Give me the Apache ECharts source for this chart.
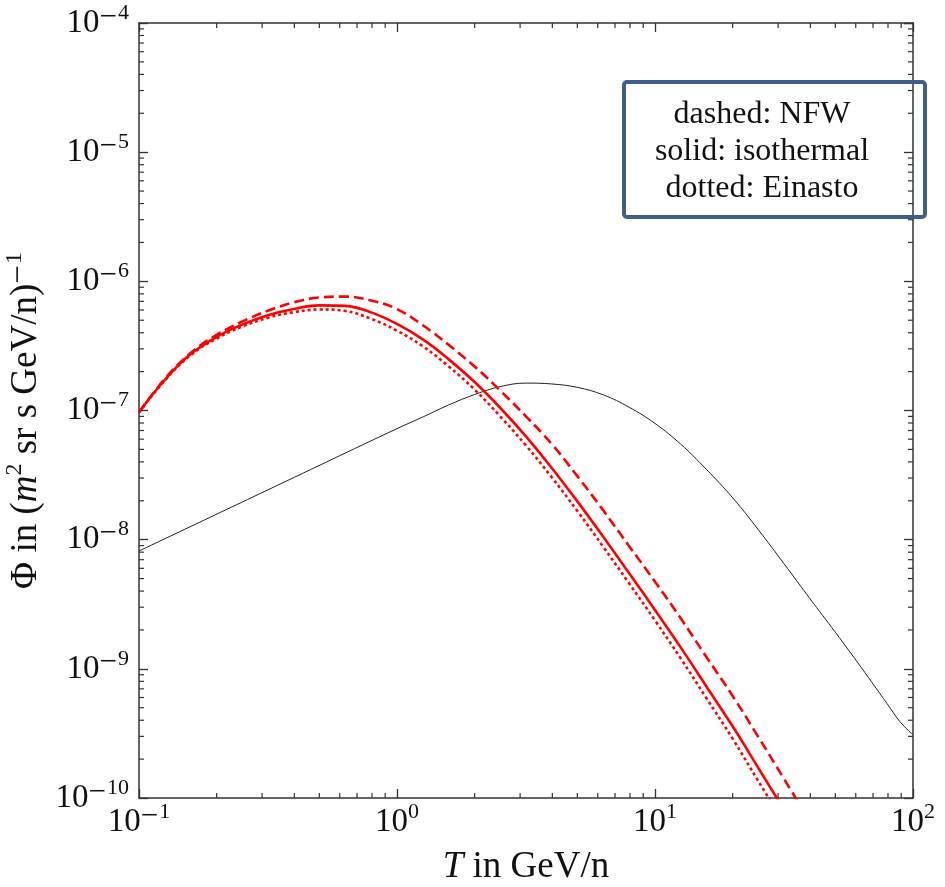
<!DOCTYPE html>
<html><head><meta charset="utf-8">
<script src="https://cdn.jsdelivr.net/npm/echarts@6/dist/echarts.min.js"></script>
<style>html,body{margin:0;padding:0;background:#fff;}#c{width:945px;height:887px;}</style>
</head><body><div id="c"></div>
<script>
// ---- data ----
// kinetic energy grid for the three red (signal) curves, GeV/n
const T_sig   = [0.1, 0.126, 0.158, 0.2, 0.251, 0.316, 0.398, 0.501, 0.631, 0.794, 1, 1.26, 1.58, 2.0, 2.51, 3.16, 3.98, 5.01, 6.31, 7.94, 10, 12.6, 15.8, 20, 25.1, 31.6, 39.8];
// dashed: NFW
const PHI_nfw = [9.70e-8, 1.76e-7, 2.77e-7, 3.85e-7, 4.88e-7, 5.92e-7, 6.87e-7, 7.50e-7, 7.62e-7, 7.11e-7, 6.10e-7, 4.57e-7, 3.24e-7, 2.19e-7, 1.43e-7, 9.02e-8, 5.50e-8, 3.09e-8, 1.68e-8, 8.91e-9, 4.73e-9, 2.45e-9, 1.24e-9, 6.17e-10, 2.99e-10, 1.41e-10, 6.61e-11];
// solid: isothermal
const PHI_iso = [9.70e-8, 1.73e-7, 2.72e-7, 3.72e-7, 4.62e-7, 5.47e-7, 6.11e-7, 6.52e-7, 6.46e-7, 5.75e-7, 4.68e-7, 3.55e-7, 2.51e-7, 1.66e-7, 1.05e-7, 6.31e-8, 3.59e-8, 1.97e-8, 1.05e-8, 5.50e-9, 2.85e-9, 1.46e-9, 7.33e-10, 3.59e-10, 1.72e-10, 8.13e-11];
// dotted: Einasto
const PHI_ein = [9.70e-8, 1.71e-7, 2.67e-7, 3.61e-7, 4.46e-7, 5.22e-7, 5.77e-7, 6.05e-7, 5.89e-7, 5.13e-7, 4.15e-7, 3.14e-7, 2.21e-7, 1.45e-7, 9.02e-8, 5.37e-8, 3.04e-8, 1.66e-8, 8.77e-9, 4.59e-9, 2.37e-9, 1.20e-9, 5.96e-10, 2.88e-10, 1.36e-10, 6.46e-11];
// thin black curve (background)
const T_bkg   = [0.1, 0.316, 1, 1.26, 1.58, 2.0, 2.51, 3.16, 3.98, 5.01, 6.31, 7.94, 10, 12.6, 15.8, 20, 25.1, 31.6, 39.8, 50.1, 63.1, 79.4, 89.1, 100];
const PHI_bkg = [8.17e-9, 2.43e-8, 7.24e-8, 8.91e-8, 1.10e-7, 1.33e-7, 1.53e-7, 1.63e-7, 1.605e-7, 1.51e-7, 1.32e-7, 1.06e-7, 7.94e-8, 5.47e-8, 3.51e-8, 2.11e-8, 1.20e-8, 6.53e-9, 3.51e-9, 1.91e-9, 1.02e-9, 5.37e-10, 3.89e-10, 3.09e-10];

const X_MIN = 0.1, X_MAX = 100;
const Y_MIN = 1e-10, Y_MAX = 1e-4;
const xDecades = [0.1, 1, 10];
const yDecades = [1e-10, 1e-9, 1e-8, 1e-7, 1e-6, 1e-5];
const legendLines = ['dashed: NFW', 'solid: isothermal', 'dotted: Einasto'];
const xTitle = ['T', ' in GeV/n'];

// ---- helpers ----
const FONT = '"Liberation Serif","Times New Roman",Times,serif';
const zip = (a, b) => b.map((v, i) => [a[i], v]);
function minorList(decades) {
  const out = [];
  decades.forEach(d => { for (let k = 2; k <= 9; k++) out.push(+(d * k).toPrecision(6)); });
  return out;
}
const minorX = minorList(xDecades);
const minorY = minorList(yDecades);

function expLabel(v) {
  const e = Math.round(Math.log10(v));
  return '{b|10}' + (e < 0 ? '{m|\u2212}' : '') + '{s|' + Math.abs(e) + '}';
}
const TXT = '#111';
const tickRich = {
  b: { fontFamily: FONT, fontSize: 33, lineHeight: 42, color: TXT },
  m: { fontFamily: FONT, fontSize: 31, lineHeight: 21, verticalAlign: 'top', color: TXT, padding: [0, 1, 0, 0] },
  s: { fontFamily: FONT, fontSize: 22, lineHeight: 21, verticalAlign: 'top', color: TXT }
};
const AX = '#333';

const chart = echarts.init(document.getElementById('c'), null, { renderer: 'canvas' });

function minorRender(isX) {
  return function (params, api) {
    const v = api.value(isX ? 0 : 1);
    const L = 5;
    const st = { stroke: AX, lineWidth: 1.2 };
    if (isX) {
      const a = api.coord([v, Y_MIN]);
      const b = api.coord([v, Y_MAX]);
      return { type: 'group', children: [
        { type: 'line', shape: { x1: a[0], y1: a[1], x2: a[0], y2: a[1] - L }, style: st },
        { type: 'line', shape: { x1: b[0], y1: b[1], x2: b[0], y2: b[1] + L }, style: st }
      ]};
    } else {
      const a = api.coord([X_MIN, v]);
      const b = api.coord([X_MAX, v]);
      return { type: 'group', children: [
        { type: 'line', shape: { x1: a[0], y1: a[1], x2: a[0] + L, y2: a[1] }, style: st },
        { type: 'line', shape: { x1: b[0], y1: b[1], x2: b[0] - L, y2: b[1] }, style: st }
      ]};
    }
  };
}

const commonAxis = {
  type: 'log', logBase: 10,
  axisLine: { show: true, lineStyle: { color: AX, width: 1.5 } },
  axisTick: { show: true, inside: true, length: 9, lineStyle: { color: AX, width: 1.3 } },
  splitLine: { show: false },
  minorTick: { show: false }
};

const titleRich = {
  p: { fontFamily: FONT, fontSize: 37, lineHeight: 46, color: TXT },
  i: { fontFamily: FONT, fontSize: 37, fontStyle: 'italic', lineHeight: 46, color: TXT },
  m: { fontFamily: FONT, fontSize: 33, lineHeight: 24, verticalAlign: 'top', color: TXT, padding: [0, 1, 0, 0] },
  s: { fontFamily: FONT, fontSize: 24, lineHeight: 24, verticalAlign: 'top', color: TXT }
};

const option = {
  animation: false,
  backgroundColor: '#fff',
  grid: { left: 139, top: 23, width: 774, height: 775, containLabel: false, outerBoundsMode: 'none' },
  xAxis: [
    Object.assign({}, commonAxis, {
      min: X_MIN, max: X_MAX, position: 'bottom',
      axisLabel: { formatter: expLabel, rich: tickRich, margin: 3, showMinLabel: true, showMaxLabel: true, hideOverlap: false },
      name: '{i|' + xTitle[0] + '}{p|' + xTitle[1] + '}',
      nameLocation: 'middle', nameGap: 46,
      nameTextStyle: { rich: titleRich }
    }),
    Object.assign({}, commonAxis, {
      min: X_MIN, max: X_MAX, position: 'top',
      axisLabel: { show: false }
    })
  ],
  yAxis: [
    Object.assign({}, commonAxis, {
      min: Y_MIN, max: Y_MAX, position: 'left',
      axisLabel: { formatter: expLabel, rich: tickRich, margin: 10, showMinLabel: true, showMaxLabel: true, hideOverlap: false },
      name: '{p|\u03A6 in (}{i|m}{s|2}{p| sr s GeV/n)}{m|\u2212}{s|1}',
      nameLocation: 'middle', nameGap: 80, nameRotate: 90,
      nameTextStyle: { rich: titleRich, padding: [0, 20, 0, 0] }
    }),
    Object.assign({}, commonAxis, {
      min: Y_MIN, max: Y_MAX, position: 'right',
      axisLabel: { show: false }
    })
  ],
  series: [
    { type: 'line', name: 'background', data: zip(T_bkg, PHI_bkg), showSymbol: false, smooth: 0.4,
      lineStyle: { color: '#222', width: 1 }, z: 3 },
    { type: 'line', name: 'NFW', data: zip(T_sig, PHI_nfw), showSymbol: false, smooth: 0.4,
      lineStyle: { color: '#ff0000', width: 2.6, type: [10, 5] }, z: 4 },
    { type: 'line', name: 'isothermal', data: zip(T_sig, PHI_iso), showSymbol: false, smooth: 0.4,
      lineStyle: { color: '#ff0000', width: 2.6 }, z: 4 },
    { type: 'line', name: 'Einasto', data: zip(T_sig, PHI_ein), showSymbol: false, smooth: 0.4,
      lineStyle: { color: '#ff0000', width: 2.6, type: [3, 3] }, z: 4 },
    { type: 'custom', name: 'xminor', data: minorX.map(v => [v, Y_MIN]), renderItem: minorRender(true),
      silent: true, clip: false, z: 2 },
    { type: 'custom', name: 'yminor', data: minorY.map(v => [X_MIN, v]), renderItem: minorRender(false),
      silent: true, clip: false, z: 2 }
  ],
  graphic: [
    { type: 'rect', shape: { x: 624, y: 82, width: 301, height: 135, r: 3 },
      style: { fill: 'none', stroke: '#3e5f8c', lineWidth: 4 }, z: 100 },
    { type: 'text', x: 762, y: 152, z: 101,
      style: { text: legendLines.join('\n'), fontFamily: FONT, fontSize: 32, lineHeight: 37,
               fill: TXT, align: 'center', verticalAlign: 'middle' } }
  ]
};
chart.setOption(option);
</script>
</body></html>
